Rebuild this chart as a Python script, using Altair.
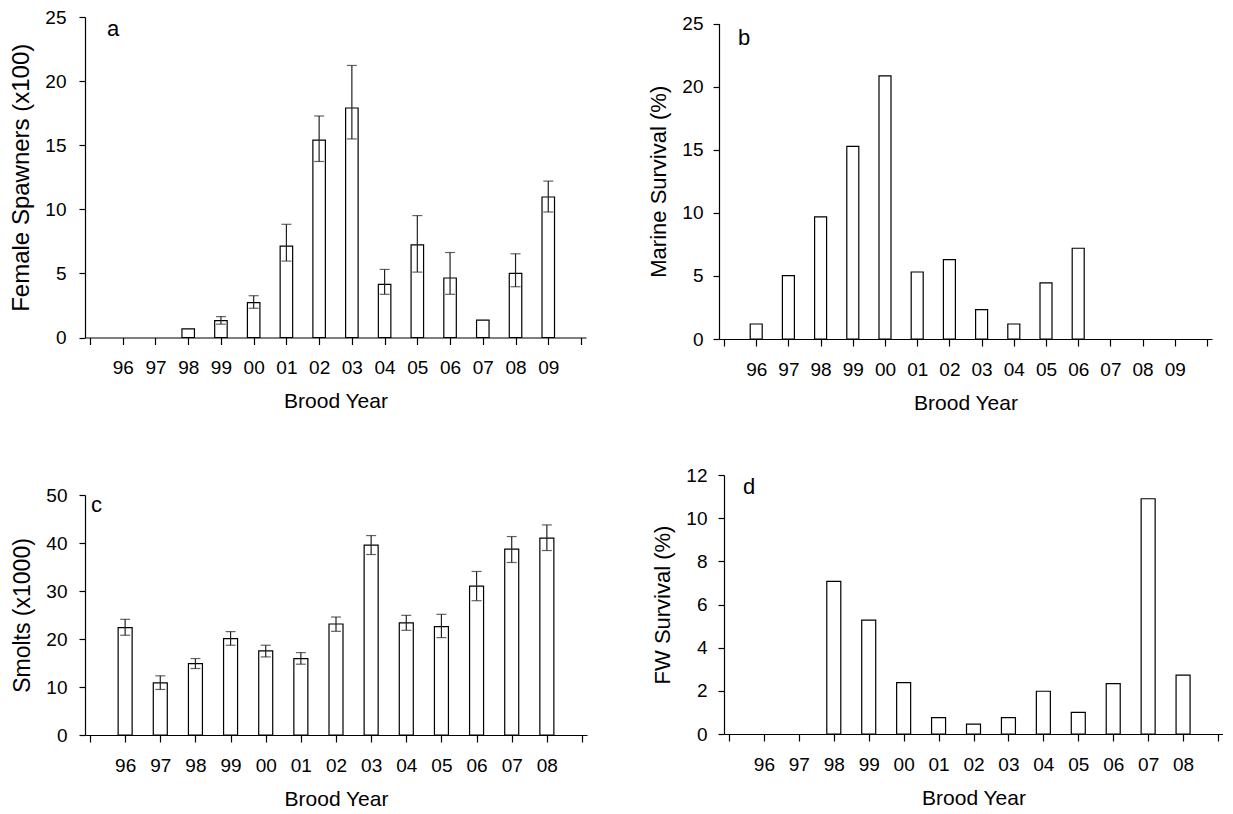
import altair as alt
import pandas as pd

FONT = "Liberation Sans"

# ---- data ----
years_a = ["96", "97", "98", "99", "00", "01", "02", "03", "04", "05", "06", "07", "08", "09"]
spawners = [None, None, 0.67, 1.32, 2.72, 7.12, 15.39, 17.9, 4.15, 7.23, 4.64, 1.35, 5.0, 10.96]
spawners_lo = [None, None, None, 1.04, 2.28, 5.96, 13.73, 15.49, 3.37, 5.10, 3.37, None, 3.96, 9.79]
spawners_hi = [None, None, None, 1.63, 3.26, 8.83, 17.28, 21.22, 5.31, 9.51, 6.63, None, 6.53, 12.2]

years_b = ["96", "97", "98", "99", "00", "01", "02", "03", "04", "05", "06", "07", "08", "09"]
marine = [1.19, 5.02, 9.67, 15.27, 20.85, 5.31, 6.29, 2.33, 1.19, 4.44, 7.19, None, None, None]

years_c = ["96", "97", "98", "99", "00", "01", "02", "03", "04", "05", "06", "07", "08"]
smolts = [22.37, 10.87, 14.89, 20.08, 17.52, 15.93, 23.13, 39.54, 23.34, 22.58, 31.02, 38.71, 41.0]
smolts_lo = [20.78, 9.49, 13.85, 18.7, 16.27, 14.75, 21.6, 37.6, 21.81, 20.29, 27.98, 35.94, 38.43]
smolts_hi = [24.1, 12.33, 15.93, 21.54, 18.7, 17.17, 24.58, 41.55, 24.93, 25.14, 34.07, 41.34, 43.77]

years_d = ["96", "97", "98", "99", "00", "01", "02", "03", "04", "05", "06", "07", "08"]
fw = [None, None, 7.07, 5.28, 2.38, 0.76, 0.46, 0.76, 1.98, 1.0, 2.33, 10.9, 2.73]


def panel(years, values, lo, hi, ymax, ystep, ytitle, ytitle_size, letter, w, h, top_off,
          bar_size, ylabpad, letter_x, letter_y):
    n = len(years)
    if lo is None:
        lo = [None] * n
        hi = [None] * n
    df = pd.DataFrame({"pos": list(range(1, n + 1)), "year": years,
                       "value": values, "lo": lo, "hi": hi})
    labels_js = "[" + ",".join("'%s'" % y for y in years) + "]"
    xscale = alt.Scale(domain=[0, n + 1], nice=False, zero=False)
    xaxis = alt.Axis(values=list(range(0, n + 2)),
                     labelExpr="datum.value >= 1 && datum.value <= %d ? %s[datum.value - 1] : ''" % (n, labels_js),
                     title="Brood Year", titleFontSize=21, labelAngle=0, labelFlush=False,
                     labelOverlap=False, tickSize=7, labelPadding=14, titlePadding=13)
    yscale = alt.Scale(domain=[0, ymax], nice=False, range=[h, top_off])
    yaxis = alt.Axis(values=list(range(0, ymax + 1, ystep)), title=ytitle,
                     titleFontSize=ytitle_size, tickSize=6, labelPadding=ylabpad,
                     titlePadding=11, labelOverlap=False)
    x_enc = alt.X("pos:Q", scale=xscale, axis=xaxis)
    base = alt.Chart(df)
    bars = base.transform_filter("isValid(datum.value)").mark_bar(
        size=bar_size, fill="white", stroke="black", strokeWidth=1.2
    ).encode(x=x_enc, y=alt.Y("value:Q", scale=yscale, axis=yaxis))
    layers = [bars]
    if any(v is not None for v in lo):
        eb = base.transform_filter("isValid(datum.lo) && isValid(datum.hi)")
        whisk = eb.mark_rule(color="#222", strokeWidth=1.2).encode(
            x=x_enc, y=alt.Y("lo:Q", scale=yscale, axis=yaxis), y2="hi:Q")
        cap_hi = eb.mark_tick(orient="horizontal", color="#222", size=10, thickness=1.2).encode(
            x=x_enc, y=alt.Y("hi:Q", scale=yscale, axis=yaxis))
        cap_lo = eb.mark_tick(orient="horizontal", color="#222", size=10, thickness=1.2).encode(
            x=x_enc, y=alt.Y("lo:Q", scale=yscale, axis=yaxis))
        layers += [whisk, cap_hi, cap_lo]
    lab = alt.Chart(pd.DataFrame({"t": [letter]})).mark_text(
        align="left", baseline="alphabetic", fontSize=22, font=FONT, color="black"
    ).encode(x=alt.value(letter_x), y=alt.value(letter_y), text="t:N")
    layers.append(lab)
    return alt.layer(*layers).properties(width=w, height=h)


pa = panel(years_a, spawners, spawners_lo, spawners_hi, 25, 5, "Female Spawners (x100)", 24, "a",
           501, 320.5, 0, 12.5, 13, 22, 18.5)
pb = panel(years_b, marine, None, None, 25, 5, "Marine Survival (%)", 22, "b",
           493, 322, 6.5, 12, 10, 19, 27.5)
pc = panel(years_c, smolts, smolts_lo, smolts_hi, 50, 10, "Smolts (x1000)", 23, "c",
           502, 260, 20, 14, 12, 6, 37)
pd_ = panel(years_d, fw, None, None, 12, 2, "FW Survival (%)", 22, "d",
            499, 259, 0, 14, 11, 19, 19)

top = alt.hconcat(pa, pb, spacing=61)
bottom = alt.hconcat(pc, pd_, spacing=64)

chart = alt.vconcat(top, bottom, spacing=53).properties(
    padding={"left": 1, "top": 0, "right": 0, "bottom": 0}
).configure_view(stroke=None).configure_axis(
    grid=False, domainColor="black", tickColor="black", labelColor="black",
    titleColor="black", labelFont=FONT, titleFont=FONT, labelFontSize=19,
    titleFontWeight="normal", domainWidth=1.2, tickWidth=1.2
).configure_text(font=FONT)

chart.save("out.html", embed_options={"renderer": "svg", "actions": False})
